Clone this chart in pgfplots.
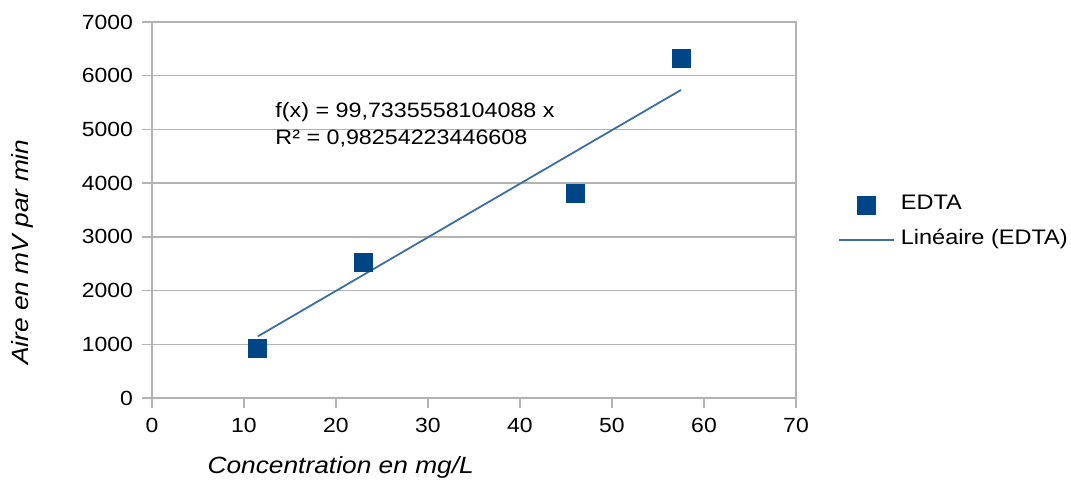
\documentclass[border=0pt]{standalone}
\usepackage{fontspec}
\setmainfont{Liberation Sans}[FakeStretch=1.12]
\usepackage{pgfplots}
\pgfplotsset{compat=1.18}
\definecolor{edta}{HTML}{004586}
\definecolor{trend}{HTML}{3A6EA5}
\definecolor{gridc}{HTML}{B3B3B3}
\begin{document}
\fontsize{20.8}{24}\selectfont
\begin{tikzpicture}
\useasboundingbox (-152pt,-84pt) rectangle (919pt,398pt);
\begin{axis}[
  at={(0pt,0pt)}, anchor=south west,
  scale only axis, width=644pt, height=376pt,
  xmin=0, xmax=70, ymin=0, ymax=7000,
  xtick={0,10,...,70}, ytick={0,1000,...,7000},
  ymajorgrids, grid style={gridc, line width=1.3pt},
  axis line style={gridc, line width=1.3pt},
  tick style={gridc, line width=1.3pt},
  major tick length=10pt, tick align=outside,
  xtick pos=left, ytick pos=left,
  /pgf/number format/assume math mode=true,
  scaled y ticks=false,
  yticklabel style={/pgf/number format/1000 sep={}, xshift=-2pt},
  xticklabel style={yshift=-3pt},
  ticklabel style={font=\fontsize{20.5}{24}\selectfont, text=black},
  xlabel={\itshape Concentration en mg/L},
  ylabel={\itshape Aire en mV par min},
  label style={font=\fontsize{23.5}{28}\selectfont},
  xlabel style={at={(axis description cs:0.293,-0.1835)}, anchor=center},
  ylabel style={at={(axis description cs:-0.2019,0.388)}, anchor=center, rotate=0},
  legend style={draw=none, fill=none, at={(axis description cs:1.065,0.467)}, anchor=west,
    inner sep=0pt, nodes={inner sep=0pt, text height=15pt, text depth=5pt, font=\fontsize{21}{24}\selectfont},
    column sep=6pt, row sep=15pt},
  legend cell align=left,
  legend image code/.code={\draw[mark repeat=2,mark phase=2,#1] plot coordinates {(0pt,0pt)(27.5pt,0pt)(55pt,0pt)};},
]
\addplot[only marks, mark=square*, mark size=9pt, mark options={draw=edta, fill=edta, line width=0.8pt}]
  coordinates {(11.5,920)(23,2520)(46,3800)(57.5,6330)};
\addlegendentry{EDTA}
\addplot[trend, line width=1.8pt] coordinates {(11.5,1147)(57.5,5735)};
\addlegendentry{Linéaire (EDTA)}
\node[anchor=west, inner sep=0pt] at (axis cs:13.4,5324) {f(x) = 99,7335558104088 x};
\node[anchor=west, inner sep=0pt] at (axis cs:13.4,4822) {R² = 0,98254223446608};
\end{axis}
\end{tikzpicture}
\end{document}
